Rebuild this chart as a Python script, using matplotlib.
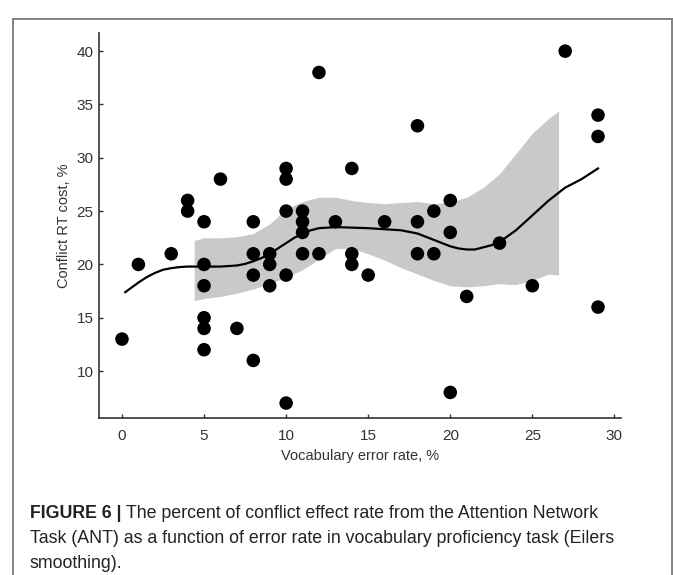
import matplotlib
matplotlib.use('Agg')
import matplotlib.pyplot as plt
from matplotlib.lines import Line2D

# scatter data (vocabulary error rate, conflict RT cost)
err_rate = [0, 1, 3, 4, 4, 5, 5, 5, 5, 5, 5, 6, 7, 8, 8, 8, 8,
            9, 9, 9, 10, 10, 10, 10, 10, 11, 11, 11, 11, 12, 12,
            13, 14, 14, 14, 15, 16, 18, 18, 18, 19, 19, 20, 20, 20,
            21, 23, 25, 27, 29, 29, 29]
rt_cost = [13, 20, 21, 26, 25, 24, 20, 18, 15, 14, 12, 28, 14, 24, 21, 19, 11,
           21, 20, 18, 29, 28, 25, 19, 7, 25, 24, 23, 21, 38, 21,
           24, 29, 21, 20, 19, 24, 33, 24, 21, 25, 21, 26, 23, 8,
           17, 22, 18, 40, 34, 32, 16]

# Eilers smoother
smooth_x = [0.2, 0.6, 1, 1.5, 2, 2.5, 3, 3.5, 4, 5, 6, 7, 7.5, 8, 8.5, 9, 9.5,
            10, 10.5, 11, 11.5, 12, 13, 14, 15, 16, 17, 18, 19, 20, 20.5, 21,
            21.5, 22, 22.5, 23, 24, 25, 26, 27, 28, 29]
smooth_y = [17.4, 17.85, 18.3, 18.8, 19.2, 19.5, 19.65, 19.75, 19.8, 19.8,
            19.8, 19.9, 20.05, 20.3, 20.6, 21.0, 21.5, 22.0, 22.5, 22.9, 23.2,
            23.4, 23.5, 23.45, 23.4, 23.3, 23.2, 22.9, 22.3, 21.7, 21.5, 21.4,
            21.4, 21.6, 21.8, 22.1, 23.2, 24.6, 26.0, 27.2, 28.0, 29.0]

# confidence band
band_x = [4.4, 5, 6, 7, 8, 9, 10, 11, 12, 13, 14, 15, 16, 17, 18, 19, 20,
          21, 22, 23, 24, 25, 26, 26.6]
band_hi = [22.25, 22.5, 22.5, 22.6, 22.9, 23.8, 25.2, 25.9, 26.3, 26.3, 26.0,
           25.8, 25.7, 25.8, 25.9, 25.7, 25.85, 26.3, 27.2, 28.5, 30.4, 32.3,
           33.7, 34.4]
band_lo = [16.6, 16.8, 17.0, 17.3, 17.7, 18.2, 18.8, 19.5, 20.5, 21.5, 21.5,
           21.0, 20.4, 19.7, 19.1, 18.5, 18.0, 17.9, 18.0, 18.2, 18.1, 18.5,
           19.1, 19.0]

plt.rcParams['font.family'] = ['Liberation Sans', 'DejaVu Sans']

fig = plt.figure(figsize=(6.73, 5.75), dpi=100)
ax = fig.add_axes([99 / 673, 1 - 418 / 575, (621 - 99) / 673, (418 - 33) / 575])

ax.fill_between(band_x, band_lo, band_hi, color='#c9c9cc', linewidth=0, zorder=1)
ax.plot(smooth_x, smooth_y, color='black', linewidth=1.6, zorder=2)
ax.scatter(err_rate, rt_cost, s=95, color='black', edgecolors='none', zorder=3)

ax.set_xlim(-1.4, 30.4)
ax.set_ylim(5.6, 41.7)
ax.set_xticks([0, 5, 10, 15, 20, 25, 30])
ax.set_yticks([10, 15, 20, 25, 30, 35, 40])
ax.spines['top'].set_visible(False)
ax.spines['right'].set_visible(False)
for s in ['left', 'bottom']:
    ax.spines[s].set_color('#333333')
    ax.spines[s].set_linewidth(1.2)
ax.tick_params(direction='in', length=3, width=1, color='#333333',
               labelsize=11, labelcolor='#333333')
ax.tick_params(axis='x', pad=8)
ax.tick_params(axis='y', pad=4)
ax.set_xlabel('Vocabulary error rate, %', fontsize=10.5, color='#333333', labelpad=4)
ax.set_ylabel('Conflict RT cost, %', fontsize=10.5, color='#333333', labelpad=4)

# outer frame of the figure panel
frame_col = '#7a7a7a'
fig.add_artist(Line2D([13 / 673, 13 / 673], [0, 1 - 19 / 575], color=frame_col, linewidth=1.3))
fig.add_artist(Line2D([13 / 673, 672 / 673], [1 - 19 / 575, 1 - 19 / 575], color=frame_col, linewidth=1.3))
fig.add_artist(Line2D([672 / 673, 672 / 673], [0, 1 - 19 / 575], color=frame_col, linewidth=1.3))

# caption
cap_x = 30 / 673
cap_size = 12.8
head = fig.text(cap_x, 1 - 518 / 575, 'FIGURE 6 |', fontsize=cap_size, fontweight='bold',
                color='#222222', va='baseline')
fig.canvas.draw()
bb = head.get_window_extent(fig.canvas.get_renderer())
fig.text(bb.x1 / fig.bbox.width + 5 / 673, 1 - 518 / 575,
         'The percent of conflict effect rate from the Attention Network',
         fontsize=cap_size, color='#222222', va='baseline')
fig.text(cap_x, 1 - 543 / 575,
         'Task (ANT) as a function of error rate in vocabulary proficiency task (Eilers',
         fontsize=cap_size, color='#222222', va='baseline')
fig.text(cap_x, 1 - 568 / 575, 'smoothing).', fontsize=cap_size, color='#222222', va='baseline')

fig.savefig('out.png', dpi=100)
